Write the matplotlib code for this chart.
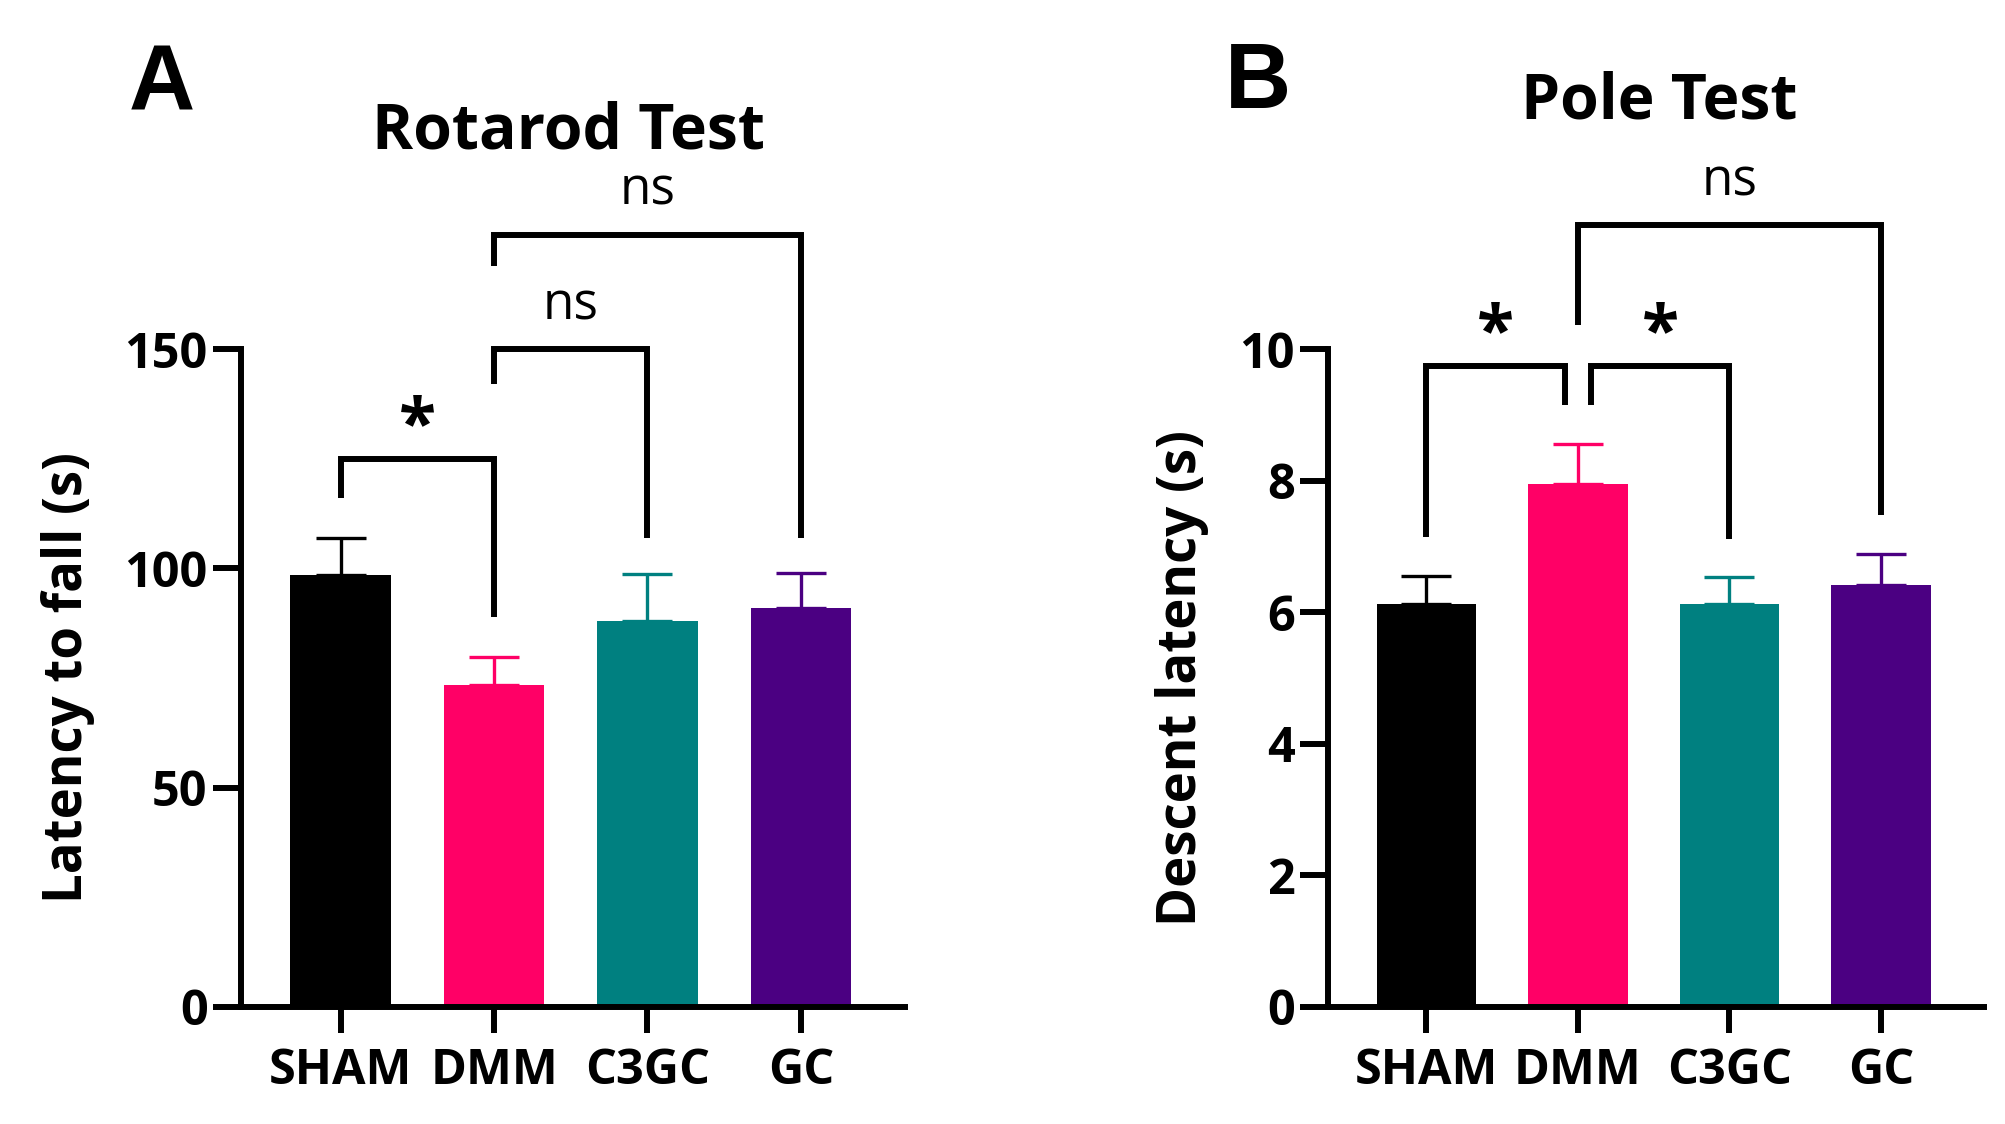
#!/usr/bin/env python3
"""Rotarod / pole test bar charts (panels A and B)."""
import matplotlib
matplotlib.use('Agg')
import matplotlib.pyplot as plt
import numpy as np

plt.rcParams.update({
    'font.family': ['Open Sans', 'DejaVu Sans'],
    'axes.linewidth': 4.3,
})

groups = ['SHAM', 'DMM', 'C3GC', 'GC']
colors = ['#000000', '#FF0066', '#008080', '#4B0082']

# panel A: rotarod, latency to fall (s)
rotarod_mean = [98.4, 73.4, 87.9, 90.9]
rotarod_err = [8.5, 6.5, 10.8, 8.0]

# panel B: pole test, descent latency (s)
pole_mean = [6.12, 7.95, 6.12, 6.41]
pole_err = [0.43, 0.61, 0.42, 0.47]

# comparisons: (x1, x2, top, left leg bottom, right leg bottom, label)
rotarod_cmp = [
    (0, 1, 125, 116, 89, '*'),
    (1, 2, 150, 142, 107, 'ns'),
    (1, 3, 176, 169, 107, 'ns'),
]
pole_cmp = [
    (0, 0.915, 9.74, 7.14, 9.15, '*'),
    (1.085, 2, 9.74, 9.15, 7.11, '*'),
    (1, 3, 11.88, 10.36, 7.47, 'ns'),
]


def draw_panel(ax, means, errs, cmps, ymax, yticks, ylabel, label_x):
    x = np.arange(len(groups))
    ax.bar(x, means, width=0.655, color=colors, zorder=2)
    for xi, m, e, c in zip(x, means, errs, colors):
        ax.errorbar(xi, m, yerr=[[0], [e]], color=c, elinewidth=2.4,
                    capsize=18, capthick=2.4, zorder=1)
    ax.set_xlim(-0.65, 3.68)
    ax.set_ylim(0, ymax)
    ax.spines['top'].set_visible(False)
    ax.spines['right'].set_visible(False)
    ax.set_xticks(x)
    ax.set_xticklabels(groups, fontsize=35, fontweight='bold')
    ax.set_yticks(yticks)
    ax.set_yticklabels([str(t) for t in yticks], fontsize=35, fontweight='bold')
    ax.tick_params(axis='y', length=20, width=4.3, pad=4)
    ax.tick_params(axis='x', length=19, width=4.3, pad=10)
    ax.set_ylabel(ylabel, fontsize=38, fontweight='bold')
    ax.yaxis.set_label_coords(label_x, 0.5)

    unit = ymax / 658.0  # data units per pixel
    for x1, x2, top, b1, b2, lab in cmps:
        ax.plot([x1, x1, x2, x2], [b1, top, top, b2], color='black',
                lw=4.3, clip_on=False, solid_joinstyle='miter',
                solid_capstyle='butt', zorder=3)
        xm = (x1 + x2) / 2
        if lab == '*':
            ax.text(xm, top + 13 * unit, '*', ha='center', va='baseline',
                    fontsize=49, fontweight='bold', clip_on=False)
        else:
            ax.text(xm, top + 30 * unit, lab, ha='center', va='baseline',
                    fontsize=37, clip_on=False)
    return ax


fig = plt.figure(figsize=(20.05, 11.24), dpi=100)
ax_a = fig.add_axes([0.1202, 0.1041, 0.3312, 0.5854])
ax_b = fig.add_axes([0.6623, 0.1041, 0.3272, 0.5854])

draw_panel(ax_a, rotarod_mean, rotarod_err, rotarod_cmp, 150, [0, 50, 100, 150],
           'Latency to fall (s)', -0.220)
draw_panel(ax_b, pole_mean, pole_err, pole_cmp, 10, [0, 2, 4, 6, 8, 10],
           'Descent latency (s)', -0.181)

fig.text(0.2833, 0.883, 'Rotarod Test', ha='center', va='center',
         fontsize=45, fontweight='bold')
fig.text(0.8274, 0.909, 'Pole Test', ha='center', va='center',
         fontsize=45, fontweight='bold')
fig.text(0.0808, 0.924, 'A', ha='center', va='center', fontsize=66,
         fontweight='bold', family='Liberation Sans')
fig.text(0.6274, 0.925, 'B', ha='center', va='center', fontsize=66,
         fontweight='bold', family='Liberation Sans')

fig.savefig('out.png', dpi=100)
